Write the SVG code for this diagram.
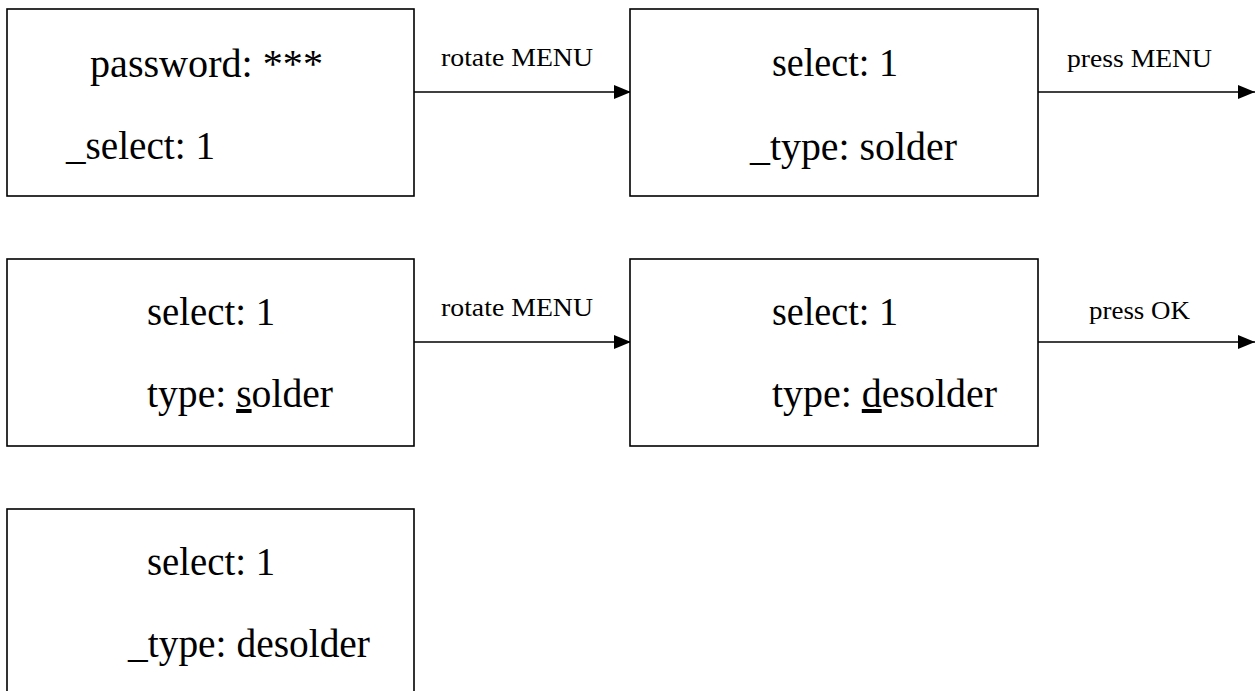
<svg xmlns="http://www.w3.org/2000/svg" width="1258" height="691" viewBox="0 0 1258 691">
<style>
.box{fill:#ffffff;stroke:#000000;stroke-width:1.6}
.t{font-family:"Liberation Serif","Times New Roman",serif;font-size:40px;fill:#000000}
.l{font-family:"Liberation Serif","Times New Roman",serif;font-size:26px;fill:#000000}
.c{stroke:#000000;stroke-width:1.6;fill:none;marker-end:url(#ah)}
.u{text-decoration:underline}
</style>
<defs>
<marker id="ah" markerUnits="userSpaceOnUse" markerWidth="17" markerHeight="14" refX="17" refY="7" orient="auto">
<path d="M0,0 L17,7 L0,14 Z" fill="#000000"/>
</marker>
</defs>
<rect width="1258" height="691" fill="#ffffff"/>
<g id="connectors">
<line class="c" x1="414" y1="92" x2="631" y2="92"/>
<line class="c" x1="1038" y1="92" x2="1255" y2="92"/>
<line class="c" x1="414" y1="342" x2="631" y2="342"/>
<line class="c" x1="1038" y1="342" x2="1255" y2="342"/>
<text class="l" x="441" y="66" textLength="152" lengthAdjust="spacingAndGlyphs">rotate MENU</text>
<text class="l" x="1067" y="67" textLength="145" lengthAdjust="spacingAndGlyphs">press MENU</text>
<text class="l" x="441" y="316" textLength="152" lengthAdjust="spacingAndGlyphs">rotate MENU</text>
<text class="l" x="1089" y="319" textLength="101" lengthAdjust="spacingAndGlyphs">press OK</text>
</g>
<g id="node1">
<rect class="box" x="7" y="9" width="407" height="187"/>
<text class="t" x="90" y="77" textLength="233" lengthAdjust="spacingAndGlyphs">password: ***</text>
<text class="t" x="66" y="159" textLength="149" lengthAdjust="spacingAndGlyphs">_select: 1</text>
</g>
<g id="node2">
<rect class="box" x="630" y="9" width="408" height="187"/>
<text class="t" x="772" y="76" textLength="126" lengthAdjust="spacingAndGlyphs">select: 1</text>
<text class="t" x="750" y="160" textLength="207" lengthAdjust="spacingAndGlyphs">_type: solder</text>
</g>
<g id="node3">
<rect class="box" x="7" y="259" width="407" height="187"/>
<text class="t" x="147" y="325" textLength="128" lengthAdjust="spacingAndGlyphs">select: 1</text>
<text class="t" x="147" y="407" textLength="186" lengthAdjust="spacingAndGlyphs">type: <tspan class="u">s</tspan>older</text>
</g>
<g id="node4">
<rect class="box" x="630" y="259" width="408" height="187"/>
<text class="t" x="772" y="325" textLength="126" lengthAdjust="spacingAndGlyphs">select: 1</text>
<text class="t" x="772" y="407" textLength="225" lengthAdjust="spacingAndGlyphs">type: <tspan class="u">d</tspan>esolder</text>
</g>
<g id="node5">
<rect class="box" x="7" y="509" width="407" height="200"/>
<text class="t" x="147" y="575" textLength="128" lengthAdjust="spacingAndGlyphs">select: 1</text>
<text class="t" x="128" y="657" textLength="242" lengthAdjust="spacingAndGlyphs">_type: desolder</text>
</g>
</svg>
